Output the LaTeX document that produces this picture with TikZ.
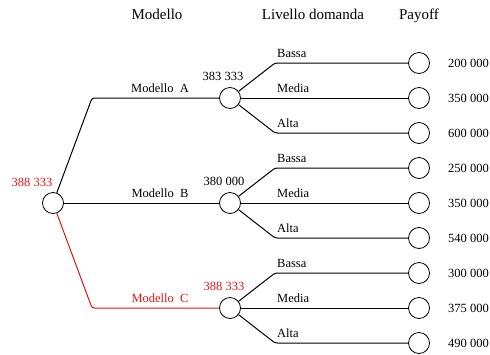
\documentclass[tikz,border=0pt]{standalone}
\usepackage{fontspec}
\setmainfont{Liberation Serif}
\usetikzlibrary{calc}
\definecolor{decred}{RGB}{230,20,20}

\tikzset{
  chance/.style={circle,draw,line width=0.8pt,minimum size=21pt,inner sep=0pt},
  branch/.style={line width=1pt,rounded corners=2.5pt},
  lbl/.style={font=\fontsize{12.5}{14}\selectfont,anchor=base,inner sep=0pt},
  head/.style={font=\fontsize{15}{18}\selectfont,anchor=base,inner sep=0pt}
}

\begin{document}
\begin{tikzpicture}[x=1pt,y=-1pt]
\useasboundingbox (0,0) rectangle (490,354);
%% Column headers
\node[head] (hmod) at (157,19) {Modello};
\node[head] (hliv) at (313,19) {Livello domanda};
\node[head] (hpay) at (419,19) {Payoff};
%% Decision node and models
\node[chance] (root) at (53,203) {};
\node[chance] (mA) at (230,98) {};
\node[chance] (mB) at (230,203) {};
\node[chance] (mC) at (230,308) {};
\coordinate (kA) at (92,98);
\coordinate (kC) at (92,308);
\draw[branch] (root) -- (kA) -- (mA);
\draw[branch] (root) -- (mB);
\draw[branch,decred] (root) -- (kC) -- (mC);
%% Leaves, model A
\node[chance] (lA1) at (419,63) {};
\node[chance] (lA2) at (419,98) {};
\node[chance] (lA3) at (419,133) {};
\coordinate (kA1) at (275,63);
\coordinate (kA3) at (275,133);
\draw[branch] (mA) -- (kA1) -- (lA1);
\draw[branch] (mA) -- (lA2);
\draw[branch] (mA) -- (kA3) -- (lA3);
%% Leaves, model B
\node[chance] (lB1) at (419,168) {};
\node[chance] (lB2) at (419,203) {};
\node[chance] (lB3) at (419,238) {};
\coordinate (kB1) at (275,168);
\coordinate (kB3) at (275,238);
\draw[branch] (mB) -- (kB1) -- (lB1);
\draw[branch] (mB) -- (lB2);
\draw[branch] (mB) -- (kB3) -- (lB3);
%% Leaves, model C
\node[chance] (lC1) at (419,273) {};
\node[chance] (lC2) at (419,308) {};
\node[chance] (lC3) at (419,343) {};
\coordinate (kC1) at (275,273);
\coordinate (kC3) at (275,343);
\draw[branch] (mC) -- (kC1) -- (lC1);
\draw[branch] (mC) -- (lC2);
\draw[branch] (mC) -- (kC3) -- (lC3);
%% Expected values
\node[lbl,text=decred] (vroot) at (32,186) {388 333};
\node[lbl] (vA) at (223,80) {383 333};
\node[lbl] (vB) at (224,185) {380 000};
\node[lbl,text=decred] (vC) at (224,290) {388 333};
%% Model labels
\node[lbl] (tA) at (160,92) {Modello\ \ A};
\node[lbl] (tB) at (160,197) {Modello\ \ B};
\node[lbl,text=decred] (tC) at (160,302) {Modello\ \ C};
%% Demand labels
\node[lbl,anchor=base west] (dA1) at (277,57) {Bassa};
\node[lbl,anchor=base west] (dA2) at (277,92) {Media};
\node[lbl,anchor=base west] (dA3) at (277,127) {Alta};
\node[lbl,anchor=base west] (dB1) at (277,162) {Bassa};
\node[lbl,anchor=base west] (dB2) at (277,197) {Media};
\node[lbl,anchor=base west] (dB3) at (277,232) {Alta};
\node[lbl,anchor=base west] (dC1) at (277,267) {Bassa};
\node[lbl,anchor=base west] (dC2) at (277,302) {Media};
\node[lbl,anchor=base west] (dC3) at (277,337) {Alta};
%% Payoffs
\node[lbl,anchor=base east] (pA1) at (489,67) {200 000};
\node[lbl,anchor=base east] (pA2) at (489,102) {350 000};
\node[lbl,anchor=base east] (pA3) at (489,137) {600 000};
\node[lbl,anchor=base east] (pB1) at (489,172) {250 000};
\node[lbl,anchor=base east] (pB2) at (489,207) {350 000};
\node[lbl,anchor=base east] (pB3) at (489,242) {540 000};
\node[lbl,anchor=base east] (pC1) at (489,277) {300 000};
\node[lbl,anchor=base east] (pC2) at (489,312) {375 000};
\node[lbl,anchor=base east] (pC3) at (489,347) {490 000};
\end{tikzpicture}
\end{document}
